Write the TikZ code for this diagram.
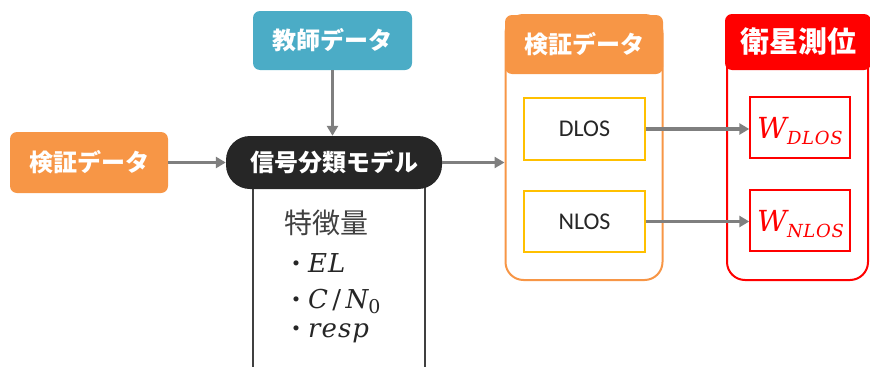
\documentclass[tikz,border=0pt]{standalone}
\usepackage{fontspec}
\newfontfamily\jp{Noto Sans CJK JP}
\newfontfamily\lserif[LetterSpace=4]{DejaVu Serif}
\setsansfont{Carlito}
\usetikzlibrary{arrows.meta}
\definecolor{teal1}{HTML}{4BACC6}
\definecolor{orng}{HTML}{F79646}
\definecolor{dark}{HTML}{262626}
\definecolor{redc}{HTML}{FF0000}
\definecolor{yel}{HTML}{FFC000}
\definecolor{arr}{HTML}{7F7F7F}
\definecolor{txt}{HTML}{404040}
\newcommand{\vi}[1]{{\lserif\itshape #1}}
\newcommand{\bul}{{\jp\fontsize{24}{28}\selectfont ・}}
\tikzset{
  x=1pt,y=-1pt,
  conn/.style={draw=arr,line width=3.8pt,-{Triangle[length=10pt,width=11pt]}},
  filledbox/.style={rounded corners=7pt,text=white,font=\jp\bfseries\fontsize{24}{28}\selectfont,inner sep=0pt},
  inbox/.style={draw,line width=1.4pt,fill=white,inner sep=0pt},
  feattxt/.style={anchor=base west,text=dark,font=\fontsize{26}{30}\selectfont,inner sep=0pt},
}
\begin{document}
\begin{tikzpicture}
\useasboundingbox (0,0) rectangle (870,367);
% teacher data
\node[filledbox,fill=teal1,minimum width=159pt,minimum height=59pt] (teach) at (332.5,40.5) {教師データ};
% left verification data
\node[filledbox,fill=orng,minimum width=158pt,minimum height=61pt] (veri) at (89,162.5) {検証データ};
% feature box
\coordinate (fa) at (253,185);
\coordinate (fb) at (253,367);
\coordinate (fc) at (425,185);
\coordinate (fd) at (425,367);
\draw[txt,line width=1.5pt] (fa) -- (fb) (fc) -- (fd);
% model
\node[filledbox,fill=dark,rounded corners=24pt,minimum width=216pt,minimum height=53pt] (model) at (334,162.5) {信号分類モデル};
\node[anchor=base west,text=txt,font=\jp\fontsize{28}{32}\selectfont,inner sep=0pt] (feat) at (284,233) {特徴量};
\node[feattxt] (f1) at (284,272) {\bul\vi{EL}};
\node[feattxt] (f2) at (284,308) {\bul\vi{C}\,{\lserif /}\,\vi{N}\raisebox{-5pt}{\lserif\fontsize{19}{20}\selectfont 0}};
\node[feattxt] (f3) at (284,337) {\bul\vi{resp}};
% orange container
\node[draw=orng,line width=2pt,rounded corners=18pt,minimum width=157pt,minimum height=265pt,inner sep=0pt] (oc) at (584,147.5) {};
\node[filledbox,fill=orng,minimum width=158pt,minimum height=59pt] (och) at (584,44.5) {検証データ};
\node[inbox,draw=yel,minimum width=121pt,minimum height=62pt,font=\sffamily\fontsize{24}{26}\selectfont,text=dark] (dlos) at (584.5,129) {DLOS};
\node[inbox,draw=yel,minimum width=121pt,minimum height=61pt,font=\sffamily\fontsize{24}{26}\selectfont,text=dark] (nlos) at (584.5,221.5) {NLOS};
% red container
\node[draw=redc,line width=2pt,rounded corners=18pt,minimum width=141pt,minimum height=265pt,inner sep=0pt] (rc) at (797.5,147.5) {};
\node[filledbox,fill=redc,minimum width=146pt,minimum height=56pt,font=\jp\bfseries\fontsize{29}{32}\selectfont] (rch) at (798,42) {衛星測位};
\node[inbox,draw=redc,minimum width=100pt,minimum height=61pt,inner sep=0pt] (wd) at (800,127.5) {};
\node[inbox,draw=redc,minimum width=100pt,minimum height=61pt,inner sep=0pt] (wn) at (800,220.5) {};
\node[anchor=base west,text=redc,inner sep=0pt,font=\fontsize{29}{32}\selectfont] (wdt) at (757,138) {\vi{W}\raisebox{-6pt}{\lserif\itshape\fontsize{18}{20}\selectfont DLOS}};
\node[anchor=base west,text=redc,inner sep=0pt,font=\fontsize{29}{32}\selectfont] (wnt) at (757,231) {\vi{W}\raisebox{-6pt}{\lserif\itshape\fontsize{18}{20}\selectfont NLOS}};
% connectors
\draw[conn] (teach.south) -- (model.north -| teach.south);
\draw[conn] (veri.east) -- (model.west);
\draw[conn] (model.east) -- (oc.west |- model.east);
\draw[conn] (dlos.east) -- (wd.west |- dlos.east);
\draw[conn] (nlos.east) -- (wn.west |- nlos.east);
\end{tikzpicture}
\end{document}
